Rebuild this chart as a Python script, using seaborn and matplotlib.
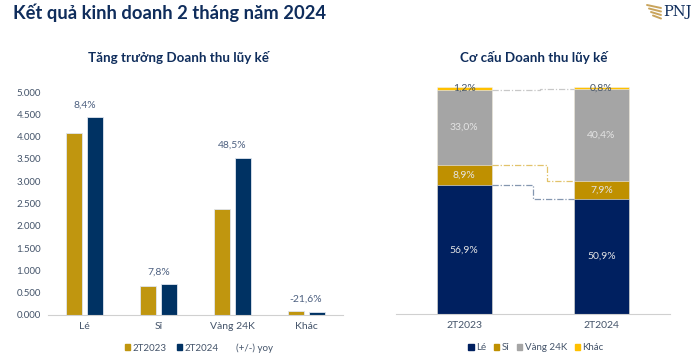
import numpy as np
import pandas as pd
import matplotlib.pyplot as plt
import seaborn as sns
from matplotlib.patches import Patch
from matplotlib.lines import Line2D

sns.set_style("white")
plt.rcParams['font.family'] = ['Lato', 'DejaVu Sans']

# --- data ---
categories = ["Lé", "Sỉ", "Vàng 24K", "Khác"]
rev_2023 = [4.09, 0.64, 2.38, 0.09]
rev_2024 = [4.43, 0.69, 3.53, 0.07]
yoy_labels = ["8,4%", "7,8%", "48,5%", "-21,6%"]

periods = ["2T2023", "2T2024"]
share_le = [56.9, 50.9]
share_si = [8.9, 7.9]
share_vang = [33.0, 40.4]
share_khac = [1.2, 0.8]

navy_txt = "#0f2d5c"
tick_col = "#44546a"
gold = "#c0960f"
navy = "#003263"
seg_colors = {"Lé": "#002060", "Sỉ": "#bf9000", "Vàng 24K": "#a5a5a5", "Khác": "#ffc000"}

fig = plt.figure(figsize=(7, 3.58), dpi=100)

# titles
fig.text(13 / 700, 1 - 19 / 358, "Kết quả kinh doanh 2 tháng năm 2024", fontsize=13.2,
         fontweight="bold", color=navy_txt, va="baseline", ha="left")
fig.text(178 / 700, 1 - 58 / 358, "Tăng trưởng Doanh thu lũy kế", fontsize=9.6,
         fontweight="bold", color=navy_txt, va="center", ha="center")
fig.text(534 / 700, 1 - 58 / 358, "Cơ cấu Doanh thu lũy kế", fontsize=9.6,
         fontweight="bold", color=navy_txt, va="center", ha="center")

# logo
fig.text(663 / 700, 1 - 12 / 358, "PNJ", fontsize=10.5, family="DejaVu Serif",
         color=navy_txt, va="center", ha="left")
for k in range(4):
    fig.add_artist(Line2D([(647 + k * 2) / 700, (661) / 700],
                          [1 - (5 + k * 3.5) / 358, 1 - (8 + k * 3.5) / 358],
                          color="#c9a45c", lw=1.4, transform=fig.transFigure))

# --- left chart ---
ax = fig.add_axes([48 / 700, 1 - 315 / 358, 295 / 700, 223 / 358])
df = pd.DataFrame({
    "cat": categories * 2,
    "period": ["2T2023"] * 4 + ["2T2024"] * 4,
    "value": rev_2023 + rev_2024,
})
sns.barplot(data=df, x="cat", y="value", hue="period", palette=[gold, navy],
            width=0.565, gap=0.23, errorbar=None, legend=False, ax=ax, saturation=1,
            edgecolor="#dfe5ef", linewidth=0.6)
for i, lab in enumerate(yoy_labels):
    top = max(rev_2023[i], rev_2024[i])
    ax.annotate(lab, (i, top), xytext=(0, 5.5), textcoords="offset points",
                ha="center", va="bottom", fontsize=7.5, color="#4d6080")
ax.set_xlim(-0.5, 3.5)
ax.set_ylim(0, 5)
ax.set_yticks(np.arange(0, 5.01, 0.5))
ax.set_yticklabels([f"{v:.3f}" for v in np.arange(0, 5.01, 0.5)])
ax.set_xticks(range(4))
ax.set_xticks([-0.5, 0.5, 1.5, 2.5, 3.5], minor=True)
ax.tick_params(axis="x", which="major", length=0, pad=5, labelsize=7.5, labelcolor=tick_col)
ax.tick_params(axis="x", which="minor", length=4, color="#d0d0d0", width=0.8)
ax.tick_params(axis="y", length=0, pad=5, labelsize=7, labelcolor=tick_col)
ax.set_xlabel("")
ax.set_ylabel("")
for s in ["top", "right", "left"]:
    ax.spines[s].set_visible(False)
ax.spines["bottom"].set_color("#d0d0d0")
ax.spines["bottom"].set_linewidth(0.8)

leg1 = [Patch(color=gold, label="2T2023"), Patch(color=navy, label="2T2024"),
        Patch(color="none", label="(+/-) yoy")]
fig.legend(handles=leg1, loc="center", bbox_to_anchor=(199 / 700, 1 - 348 / 358), ncol=3,
           frameon=False, fontsize=7, handlelength=0.55, handleheight=0.55,
           handletextpad=0.25, columnspacing=1.0, labelcolor=tick_col)

# --- right chart ---
ax2 = fig.add_axes([395.7 / 700, 1 - 314.3 / 358, 274.3 / 700, 227 / 358])
layers = [("Lé", share_le), ("Sỉ", share_si), ("Vàng 24K", share_vang), ("Khác", share_khac)]
cum = np.cumsum([np.array(v) for _, v in layers], axis=0)
for idx in range(len(layers) - 1, -1, -1):
    name = layers[idx][0]
    sns.barplot(x=periods, y=cum[idx], color=seg_colors[name], width=0.4,
                errorbar=None, ax=ax2, saturation=1, edgecolor="#f2f2f2", linewidth=0.4)

for idx, (name, vals) in enumerate(layers):
    for j in range(2):
        lo = cum[idx - 1][j] if idx > 0 else 0
        hi = cum[idx][j]
        txt = f"{vals[j]:.1f}%".replace(".", ",")
        if name == "Khác":
            ax2.text(j, hi - 0.6, txt, ha="center", va="center", fontsize=7.5, color="#44546a")
        else:
            ax2.text(j, (lo + hi) / 2, txt, ha="center", va="center", fontsize=7.5, color="#e4e4e4")

# connector lines between the bars
conn = [(0, 0.5, "#8497b0"), (1, 0.6, "#e2c36a"), (2, 0.55, "#c8c8c8")]
for idx, xm, col in conn:
    y0, y1 = cum[idx][0], cum[idx][1]
    ax2.plot([0.2, xm, xm, 0.8], [y0, y0, y1, y1], color=col, lw=0.9,
             ls=(0, (5, 1.5, 1, 1.5)), zorder=1)

ax2.set_xlim(-0.5, 1.5)
ax2.set_ylim(0, 100)
ax2.set_yticks([])
ax2.tick_params(axis="x", length=0, pad=5, labelsize=7.5, labelcolor=tick_col)
for s in ["top", "right", "left"]:
    ax2.spines[s].set_visible(False)
ax2.spines["bottom"].set_color("#d0d0d0")
ax2.spines["bottom"].set_linewidth(0.8)

leg2 = [Patch(color=seg_colors[n], label=n) for n in categories]
fig.legend(handles=leg2, loc="center", bbox_to_anchor=(536 / 700, 1 - 348 / 358), ncol=4,
           frameon=False, fontsize=7, handlelength=0.55, handleheight=0.55,
           handletextpad=0.25, columnspacing=0.8, labelcolor=tick_col)

fig.savefig("out.png", dpi=100)
